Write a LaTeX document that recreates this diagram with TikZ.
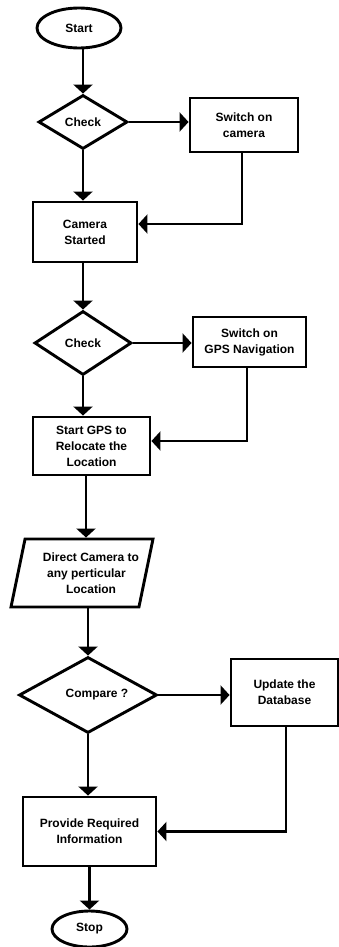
\documentclass[tikz,border=0pt]{standalone}
\usepackage{fontspec}
\setmainfont{Liberation Sans}
\usetikzlibrary{shapes.geometric,arrows.meta}
\newcommand{\shiftr}[1]{\hspace*{9pt}#1\hspace*{-9pt}}
\begin{document}
\begin{tikzpicture}[x=1pt,y=-1pt,
  every node/.style={font=\bfseries\fontsize{12}{16}\selectfont, align=center, inner sep=0pt, line width=2.9pt, draw},
  term/.style={ellipse, minimum width=84pt, minimum height=40pt},
  dec/.style={diamond},
  proc/.style={rectangle},
  io/.style={trapezium, trapezium left angle=71, trapezium right angle=109, trapezium stretches body},
  arr/.style={line width=2.9pt, -{Triangle[width=19pt,length=9pt]}}
]
\fill[white] (0,0) rectangle (339,947);
\useasboundingbox (0,0) rectangle (339,947);

\node[term] (start) at (79,28) {Start};
\node[dec, minimum width=89pt, minimum height=54pt] (c1) at (83,122) {Check};
\node[proc, minimum width=108pt, minimum height=54pt] (sw1) at (244,125) {Switch on\\camera};
\node[proc, minimum width=104pt, minimum height=60pt] (cam) at (85,232) {Camera\\Started};
\node[dec, minimum width=97pt, minimum height=64pt] (c2) at (83,343) {Check};
\node[proc, minimum width=113pt, minimum height=50pt] (sw2) at (249.5,342) {Switch on\\GPS Navigation};
\node[proc, minimum width=117pt, minimum height=58pt] (gps) at (91.5,446) {Start GPS to\\Relocate the\\Location};
\node[io, minimum width=142pt, minimum height=68pt] (io) at (82,573) {\shiftr{Direct Camera to}\\\shiftr{any perticular}\\\shiftr{Location}};
\node[dec, minimum width=138pt, minimum height=76pt] (cmp) at (88,695) {\shiftr{Compare ?}};
\node[proc, minimum width=107pt, minimum height=67pt] (upd) at (284.5,692.5) {Update the\\Database};
\node[proc, minimum width=133pt, minimum height=69pt] (prov) at (89.5,831.5) {Provide Required\\Information};
\node[term, minimum width=75pt, minimum height=36pt] (stop) at (89.5,929) {Stop};

\draw[arr] (c1.north |- start.south) -- (c1.north);
\draw[arr] (c1.east) -- (c1.east -| sw1.west);
\draw[arr] (c1.south) -- (c1.south |- cam.north);
\draw[arr] ([xshift=-2pt]sw1.south) |- ([yshift=8pt]cam.east);
\draw[arr] (c2.north |- cam.south) -- (c2.north);
\draw[arr] (c2.east) -- (c2.east -| sw2.west);
\draw[arr] (c2.south) -- (c2.south |- gps.north);
\draw[arr] ([xshift=-2.5pt]sw2.south) |- ([yshift=5pt]gps.east);
\draw[arr] ([xshift=-5.5pt]gps.south) -- ([xshift=-5.5pt]gps.south |- io.north);
\draw[arr] (cmp.north |- io.south) -- (cmp.north);
\draw[arr] (cmp.east) -- (cmp.east -| upd.west);
\draw[arr] (cmp.south) -- (cmp.south |- prov.north);
\draw[arr] ([xshift=1.5pt]upd.south) |- (prov.east);
\draw[arr] (prov.south) -- (stop.north);
\end{tikzpicture}
\end{document}
